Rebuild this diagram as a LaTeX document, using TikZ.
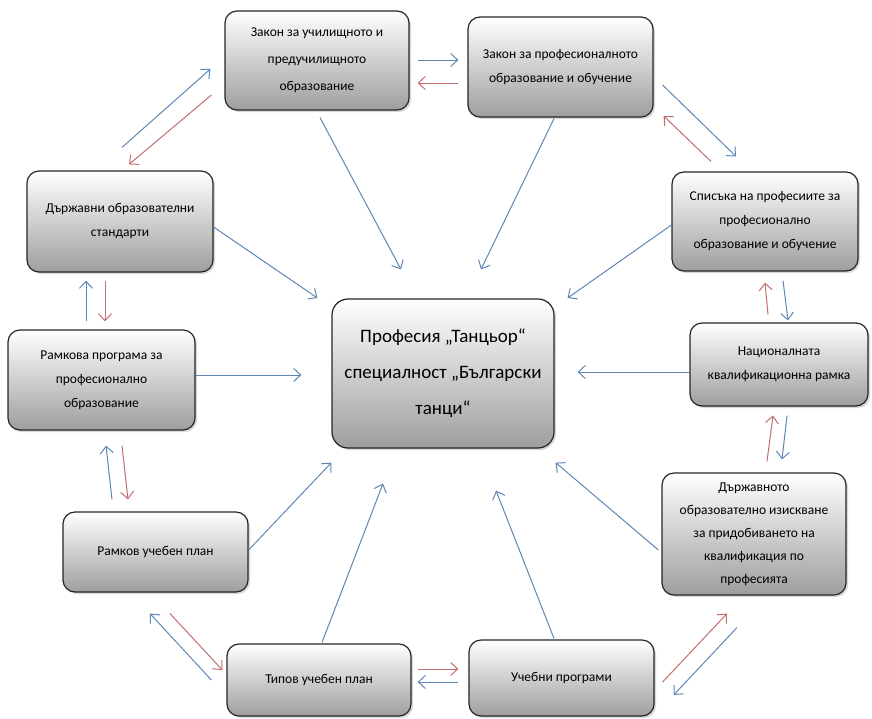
\documentclass[tikz,border=0pt]{standalone}
\usepackage{fontspec}
\setmainfont{Carlito}
\usetikzlibrary{arrows.meta,shadows}
\definecolor{arrblue}{RGB}{95,135,180}
\definecolor{arrred}{RGB}{195,110,110}
\tikzset{
  box/.style={draw=black!85, line width=1.2pt, rounded corners=12pt,
    top color=white, bottom color=black!38, align=center, inner sep=2pt,
    drop shadow={shadow xshift=2pt, shadow yshift=-2pt, opacity=0.3},
    font=\fontsize{13.5}{24}\selectfont},
  bigbox/.style={box, rounded corners=16pt, font=\fontsize{19}{36}\selectfont},
  arr/.style={line width=1pt, -{Straight Barb[length=7pt,width=13pt]}},
  barr/.style={arr, draw=arrblue},
  rarr/.style={arr, draw=arrred}
}
\begin{document}
\begin{tikzpicture}[x=1pt,y=-1pt]
\fill[white] (0,0) rectangle (872,718);
\useasboundingbox (0,0) rectangle (872,718);

\node[box, minimum width=184pt, minimum height=99pt, font=\fontsize{13.5}{27}\selectfont] (n1) at (317,60.5) {Закон за училищното и\\предучилищното\\образование};
\node[box, minimum width=185pt, minimum height=100pt] (n2) at (560.5,67) {Закон за професионалното\\образование и обучение};
\node[box, minimum width=186pt, minimum height=101pt] (n3) at (120,221.5) {Държавни образователни\\стандарти};
\node[box, minimum width=186pt, minimum height=99pt] (n4) at (765,221.5) {Списъка на професиите за\\професионално\\образование и обучение};
\node[box, minimum width=187pt, minimum height=100pt] (n5) at (101.5,380) {Рамкова програма за\\професионално\\образование};
\node[bigbox, minimum width=222pt, minimum height=149pt] (c) at (443,373.5) {Професия „Танцьор“\\специалност „Български\\танци“};
\node[box, minimum width=178pt, minimum height=83pt] (n6) at (779,364.5) {Националната\\квалификационна рамка};
\node[box, minimum width=184pt, minimum height=122pt, font=\fontsize{13.5}{23}\selectfont] (n7) at (754,534) {Държавното\\образователно изискване\\за придобиването на\\квалификация по\\професията};
\node[box, minimum width=185pt, minimum height=80pt] (n8) at (155.5,552) {Рамков учебен план};
\node[box, minimum width=184pt, minimum height=72pt] (n9) at (319,680) {Типов учебен план};
\node[box, minimum width=185pt, minimum height=76pt] (n10) at (561.5,678) {Учебни програми};

% top-left pair
\draw[barr] ([shift={(2,-23)}]n3.north) -- ([shift={(-14,8.5)}]n1.west);
\draw[rarr] ([shift={(-13,34.5)}]n1.west) -- ([shift={(9,-6)}]n3.north);
% top pair
\draw[barr] ([shift={(8,-0.5)}]n1.east) -- ([shift={(-9,-7)}]n2.west);
\draw[rarr] ([shift={(-9,16)}]n2.west) -- ([shift={(8,22.5)}]n1.east);
% top-right pair
\draw[barr] ([shift={(9,18)}]n2.east) -- ([shift={(-29,-15)}]n4.north);
\draw[rarr] ([shift={(-54,-10)}]n4.north) -- ([shift={(10,49)}]n2.east);
% into centre
\draw[barr] ([shift={(3,7)}]n1.south) -- ([shift={(-42,-29)}]c.north);
\draw[barr] ([shift={(-6.5,1)}]n2.south) -- ([shift={(38,-29)}]c.north);
\draw[barr] ([shift={(0,5.5)}]n3.east) -- ([shift={(-14,-75.5)}]c.west);
\draw[barr] ([shift={(0,3.5)}]n4.west) -- ([shift={(13,-75.5)}]c.east);
\draw[barr] ([shift={(0,7.5)}]n6.west) -- ([shift={(23,-1.5)}]c.east);
\draw[barr] ([shift={(0,-5)}]n5.east) -- ([shift={(-30,1.5)}]c.west);
\draw[barr] ([shift={(0,-2)}]n8.east) -- ([shift={(0,14)}]c.south west);
\draw[barr] ([shift={(3,-1)}]n9.north) -- ([shift={(-60,35)}]c.south);
\draw[barr] ([shift={(-7.5,-1)}]n10.north) -- ([shift={(53,42)}]c.south);
\draw[barr] ([shift={(-3,16)}]n7.west) -- ([shift={(1,14)}]c.south east);
% right column pairs
\draw[barr] ([shift={(18,9)}]n4.south) -- ([shift={(9,-2)}]n6.north);
\draw[rarr] ([shift={(-11,-8)}]n6.north) -- ([shift={(0,11)}]n4.south);
\draw[rarr] ([shift={(13,-11)}]n7.north) -- ([shift={(-6,9)}]n6.south);
\draw[barr] ([shift={(8,9)}]n6.south) -- ([shift={(28,-13)}]n7.north);
% left column pairs
\draw[barr] ([shift={(-15.5,-8)}]n5.north) -- ([shift={(-34,8)}]n3.south);
\draw[rarr] ([shift={(-15,8)}]n3.south) -- ([shift={(3.5,-8)}]n5.north);
\draw[barr] ([shift={(-43.5,-12)}]n8.north) -- ([shift={(4.5,15)}]n5.south);
\draw[rarr] ([shift={(20.5,15)}]n5.south) -- ([shift={(-27.5,-12)}]n8.north);
% bottom pairs
\draw[barr] ([shift={(-15,0)}]n9.west) -- ([shift={(-5.5,21)}]n8.south);
\draw[rarr] ([shift={(14.5,21)}]n8.south) -- ([shift={(-4,-10)}]n9.west);
\draw[rarr] ([shift={(6,-11)}]n9.east) -- ([shift={(-10,-9)}]n10.west);
\draw[barr] ([shift={(-10,4)}]n10.west) -- ([shift={(6,2)}]n9.east);
\draw[rarr] ([shift={(8,4)}]n10.east) -- ([shift={(-27,18)}]n7.south);
\draw[barr] ([shift={(-17,32)}]n7.south) -- ([shift={(19,17)}]n10.east);
\end{tikzpicture}
\end{document}
